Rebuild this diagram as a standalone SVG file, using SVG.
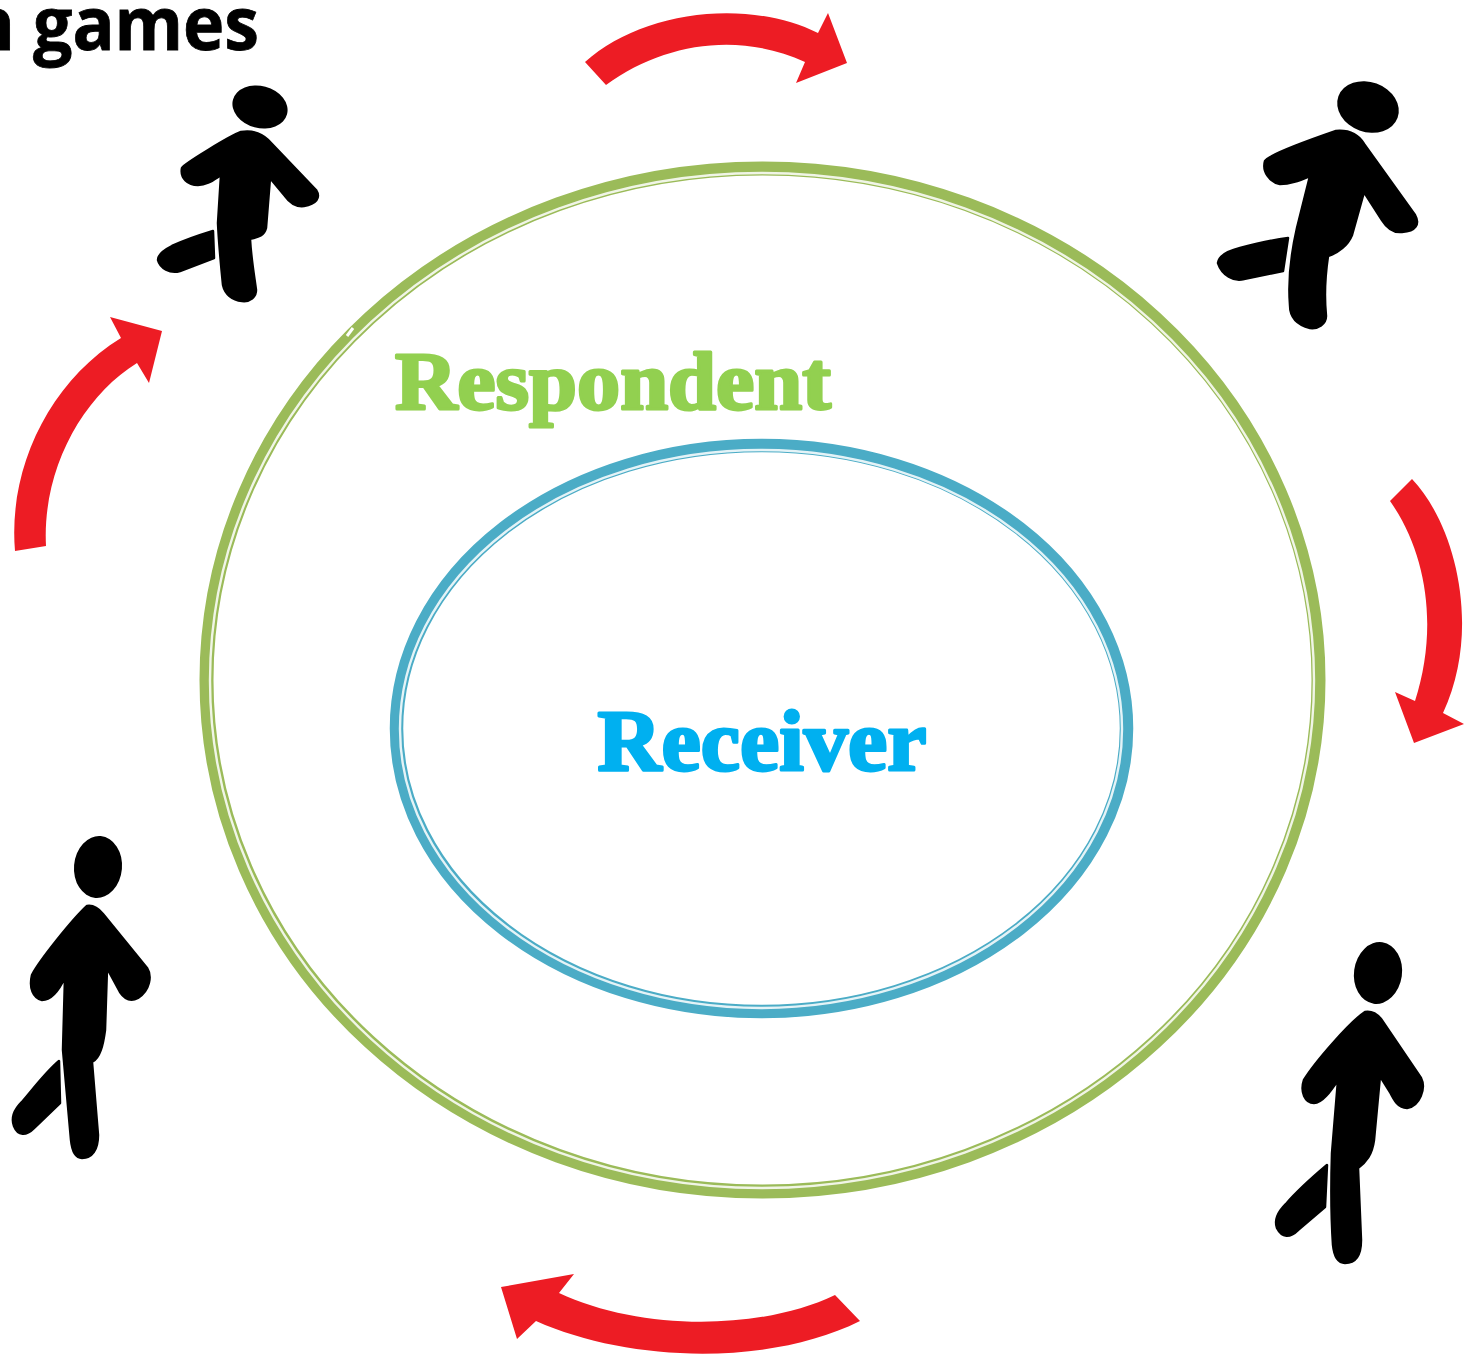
<svg xmlns="http://www.w3.org/2000/svg" width="1475" height="1354" viewBox="0 0 1475 1354">
<style>
.fig{fill:#000;stroke:#000;stroke-width:2.5;stroke-linejoin:round}
.head{fill:#000}
.arrow{fill:#ED1C24}
.ring{fill:none}
.lab{font-family:"Liberation Serif","Times New Roman",serif;font-weight:700;stroke-width:3;stroke-linejoin:round}
</style>
<rect width="1475" height="1354" fill="#fff"/>
<text id="title" x="-31" y="50" textLength="290" lengthAdjust="spacingAndGlyphs" font-family="'Open Sans',sans-serif" font-weight="700" font-size="74" fill="#000" stroke="#000" stroke-width=".8">n games</text>
<g id="respondent-ring">
<ellipse class="ring" cx="762.5" cy="680" rx="556" ry="511.5" stroke="#9BBB59" stroke-width="14"/>
<ellipse class="ring" cx="762" cy="680.5" rx="552" ry="507.5" stroke="#fff" stroke-width="2.4" opacity=".85"/>
<path d="M347 336L353 328" stroke="#fff" stroke-width="3" fill="none"/>
</g>
<g id="receiver-ring">
<ellipse class="ring" cx="761.500" cy="728.500" rx="365" ry="283" stroke="#4BACC6" stroke-width="13.500"/>
<ellipse class="ring" cx="761" cy="729" rx="361" ry="279" stroke="#fff" stroke-width="2.400" opacity=".85"/>
</g>
<g id="respondent-label"><text class="lab" x="395" y="409" textLength="436" lengthAdjust="spacingAndGlyphs" font-size="83" fill="#92D050" stroke="#92D050">Respondent</text></g>
<g id="receiver-label"><text class="lab" x="597.500" y="769.500" textLength="329" lengthAdjust="spacingAndGlyphs" font-size="86" fill="#00B0F0" stroke="#00B0F0">Receiver</text></g>
<g id="connectors">
<path class="arrow" d="M585 62C640 12 745 -3 818 33L828 13L847 63L796 83L805 62C740 32 665 42 606 85Z"/>
<path class="arrow" d="M1412 479C1456 525 1482 630 1443 713L1464 724L1414 743L1395 692L1415 701C1438 630 1428 555 1390 501Z"/>
<path class="arrow" d="M860 1321C770 1366 630 1363 536 1321L517 1339L501 1287L574 1274L559 1293C640 1331 760 1331 835 1295Z"/>
<path class="arrow" d="M15 551C8 470 48 383 121 338L110 317L162 331L149 383L137 363C82 397 42 470 46 546Z"/>
</g>
<g id="person-top-left">
<ellipse class="head" cx="260" cy="107" rx="28" ry="21" transform="rotate(15 260 107)"/>
<path class="fig" d="M241 132C254 130 262 134 268 140L316 190C321 198 316 204 304 206C296 207 290 203 285 196L270 178L266 228C264 236 258 237 250 239C251 258 254 275 256 290C256 297 250 302 242 301C232 300 225 294 223 285C221 265 219 245 218 223L221 175C213 180 207 185 198 185C188 185 180 178 182 168C184 164 230 136 241 132Z"/>
<path class="fig" d="M213 231L214 258L180 271C170 274 160 268 158 260C158 255 164 250 172 246C185 240 200 235 213 231Z"/>
</g>
<g id="person-top-right">
<ellipse class="head" cx="1368" cy="107" rx="31.500" ry="25" transform="rotate(20 1368 107)"/>
<path class="fig" d="M1336 131C1348 130 1358 134 1364 144L1415 215C1420 224 1416 231 1402 232C1393 233 1387 228 1382 220L1364 192L1352 235C1348 245 1338 253 1328 256C1325 276 1324 296 1326 316C1326 324 1318 329 1310 328C1298 325 1290 318 1290 305C1288 280 1292 250 1297 228L1310 176C1298 181 1290 184 1280 184C1270 182 1262 172 1265 161C1268 155 1310 140 1336 131Z"/>
<path class="fig" d="M1288 238L1283 271L1244 279C1234 282 1222 275 1218 263C1219 255 1228 251 1240 248C1255 244 1272 240 1288 238Z"/>
</g>
<g id="person-bottom-left">
<ellipse class="head" cx="98" cy="867" rx="24" ry="31" transform="rotate(5 98 867)"/>
<path class="fig" d="M87 906C93 905 98 908 103 914L147 968C152 976 150 990 138 998C130 1002 124 998 120 992L107 968L105 1030C103 1045 100 1058 92 1062L98 1135C98 1150 92 1158 82 1158C75 1158 72 1150 71 1140L63 1050L65 977C60 988 52 1000 42 1000C33 998 29 988 32 975C40 960 72 920 87 906Z"/>
<path class="fig" d="M59 1061L60 1103L34 1128C26 1136 18 1136 14 1126C11 1118 14 1110 22 1102C34 1088 46 1072 59 1061Z"/>
</g>
<g id="person-bottom-right">
<ellipse class="head" cx="1378" cy="973" rx="24" ry="31" transform="rotate(8 1378 973)"/>
<path class="fig" d="M1365 1012C1371 1011 1376 1013 1381 1019L1421 1078C1426 1088 1420 1106 1407 1108C1398 1108 1394 1100 1390 1092L1380 1076L1374 1140C1372 1155 1366 1162 1358 1168L1361 1240C1361 1255 1356 1263 1345 1263C1337 1263 1334 1255 1333 1245C1331 1215 1331 1185 1332 1153L1338 1080C1330 1092 1322 1103 1314 1103C1305 1103 1300 1092 1304 1080C1315 1062 1350 1022 1365 1012Z"/>
<path class="fig" d="M1327 1165L1325 1207L1298 1230C1290 1238 1282 1238 1277 1228C1274 1220 1278 1212 1286 1204C1298 1190 1314 1176 1327 1165Z"/>
</g>
</svg>
